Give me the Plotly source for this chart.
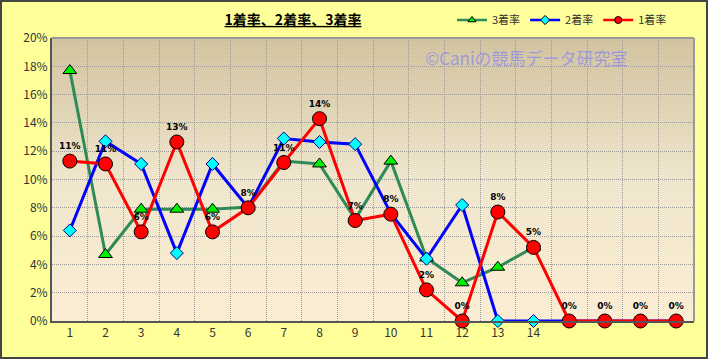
import plotly.graph_objects as go

categories = list(range(1, 19))
tick_labels = [str(i) for i in range(1, 15)]

rate1 = [11.3, 11.1, 6.3, 12.65, 6.3, 8.0, 11.2, 14.3, 7.1, 7.55, 2.2, 0.0, 7.7, 5.2, 0.0, 0.0, 0.0, 0.0]
rate2 = [6.4, 12.7, 11.1, 4.8, 11.1, 8.0, 12.9, 12.65, 12.5, 7.6, 4.4, 8.2, 0.0, 0.0, 0.0, 0.0, 0.0, 0.0]
rate3 = [17.7, 4.7, 7.9, 7.9, 7.9, 8.05, 11.3, 11.1, 7.2, 11.3, 4.45, 2.7, 3.8, 5.2, None, None, None, None]
labels1 = ["11%", "11%", "6%", "13%", "6%", "8%", "11%", "14%", "7%", "8%", "2%", "0%", "8%", "5%", "0%", "0%", "0%", "0%"]
series_names = ["3着率", "2着率", "1着率"]

W, H = 708, 359
ML, MR, MT, MB = 52, 14, 38, 38
PW, PH = W - ML - MR, H - MT - MB

styles = {
    "3着率": dict(line=dict(color="#2E8B57", width=3), sym="triangle-up", fill="#00EE00", edge="#000"),
    "2着率": dict(line=dict(color="#0000FF", width=3), sym="diamond", fill="#00FFFF", edge="#000080"),
    "1着率": dict(line=dict(color="#FF0000", width=3), sym="circle", fill="#FF0000", edge="#000"),
}
sizes = {"3着率": 12, "2着率": 10, "1着率": 14}
data = {"3着率": rate3, "2着率": rate2, "1着率": rate1}

fig = go.Figure()
for name in series_names:
    st = styles[name]
    if name == "1着率":
        kw = dict(mode="lines+markers+text", text=labels1, textposition="top center",
                  textfont=dict(family="DejaVu Sans", size=9, color="#000"),
                  texttemplate="<b>%{text}</b>")
    else:
        kw = dict(mode="lines+markers")
    fig.add_trace(go.Scatter(
        x=categories, y=data[name], name=name, showlegend=False, legendgroup=name,
        line=st["line"],
        marker=dict(symbol=st["sym"], size=sizes[name], color=st["fill"], line=dict(color=st["edge"], width=1)),
        cliponaxis=False, **kw,
    ))
for name in series_names:
    st = styles[name]
    fig.add_trace(go.Scatter(
        x=[None], y=[None], name=name, legendgroup=name, mode="lines+markers",
        line=dict(color=st["line"]["color"], width=2.5),
        marker=dict(symbol=st["sym"], size=7, color=st["fill"], line=dict(color="#000", width=1)),
    ))

shapes = []
top = (0xD2, 0xC3, 0xA0)
mid = (0xEF, 0xE6, 0xCD)
bot = (0xFB, 0xED, 0xD3)
N = 70
for i in range(N):
    t = i / (N - 1)
    if t < 0.5:
        u = t / 0.5
        c = tuple(round(top[k] + (mid[k] - top[k]) * u) for k in range(3))
    else:
        u = (t - 0.5) / 0.5
        c = tuple(round(mid[k] + (bot[k] - mid[k]) * u) for k in range(3))
    y1 = 1 - i / N
    y0 = 1 - (i + 1) / N
    shapes.append(dict(type="rect", xref="paper", yref="paper", x0=0, x1=1, y0=y0 - 0.002, y1=y1,
                       fillcolor="rgb(%d,%d,%d)" % c, line=dict(width=0), layer="below"))

shapes.append(dict(type="line", xref="paper", yref="paper", x0=0, x1=1, y0=1, y1=1,
                   line=dict(color="#999999", width=2)))
shapes.append(dict(type="line", xref="paper", yref="paper", x0=1, x1=1, y0=0, y1=1,
                   line=dict(color="#999999", width=2)))
shapes.append(dict(type="rect", xref="paper", yref="paper",
                   x0=-(ML - 1) / PW, x1=(W - ML - 1) / PW,
                   y0=-(MB - 1) / PH, y1=1 + (MT - 1) / PH,
                   line=dict(color="#444444", width=2), fillcolor="rgba(0,0,0,0)"))

fig.update_layout(
    width=W, height=H,
    margin=dict(l=ML, r=MR, t=MT, b=MB, autoexpand=False),
    paper_bgcolor="#FFFF99",
    plot_bgcolor="rgba(0,0,0,0)",
    font=dict(family="Noto Sans CJK JP", color="#333"),
    title=dict(text="<b><u>1着率、2着率、3着率</u></b>", x=293 / W, xanchor="center",
               xref="container", yref="container",
               y=1 - 20 / H, yanchor="middle",
               font=dict(size=14, color="#000", family="Noto Sans CJK JP")),
    showlegend=True,
    legend=dict(orientation="h", xref="container", yref="container",
                x=672 / W, xanchor="right", y=1 - 20 / H,
                yanchor="middle", bgcolor="rgba(0,0,0,0)", font=dict(size=11, color="#333"),
                itemwidth=30, tracegroupgap=0),
    shapes=shapes,
    annotations=[dict(text="©Caniの競馬データ研究室", xref="paper", yref="paper",
                      x=(526 - ML) / PW, y=1 - (57 - MT) / PH, showarrow=False,
                      xanchor="center", yanchor="middle",
                      font=dict(size=17, color="rgba(120,120,255,0.6)", family="Noto Sans CJK JP"))],
)
fig.update_xaxes(
    range=[0.5, 18.5], tickmode="array", tickvals=list(range(1, 15)), ticktext=tick_labels,
    showgrid=False, zeroline=False, showline=True, linecolor="#555555", linewidth=2,
    ticks="", tickfont=dict(size=12, color="#333"),
    minor=dict(tick0=0.5, dtick=1, showgrid=True, gridcolor="#9A9A9A", griddash="1px,1px", gridwidth=1),
)
fig.update_yaxes(
    range=[0, 20], dtick=2, ticksuffix="%", showgrid=True, gridcolor="#9A9A9A", griddash="1px,1px",
    zeroline=False, showline=True, linecolor="#555555", linewidth=2, ticks="",
    tickfont=dict(size=12, color="#333"),
)

fig.write_html("out.html")
